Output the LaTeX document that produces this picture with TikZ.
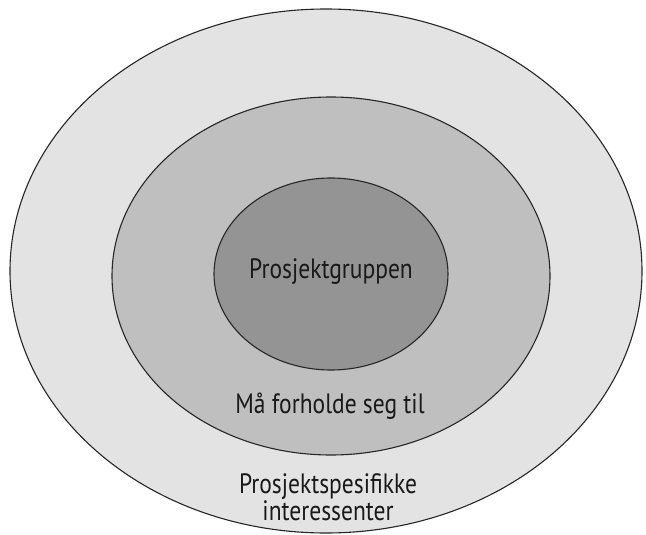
\documentclass[tikz,border=0pt]{standalone}
\usepackage{fontspec}
\setmainfont[FakeStretch=0.84]{PT Sans}
\usepackage{tikz}
\usetikzlibrary{shapes.geometric}

\begin{document}
\begin{tikzpicture}[x=1pt,y=-1pt,
        ring/.style={ellipse,draw=black!85,line width=1.1pt,inner sep=0pt},
        lbl/.style={align=center,font=\fontsize{28}{27}\selectfont,text=black!90}]
        \useasboundingbox (0,0) rectangle (646,535);
        \node[ring,fill=black!11,minimum width=632pt,minimum height=524pt] (outer) at (326,271) {};
        \node[ring,fill=black!25,minimum width=438pt,minimum height=358pt] (middle) at (331,276) {};
        \node[ring,fill=black!42,minimum width=234pt,minimum height=192pt] (inner) at (331,274) {};
        \node[lbl] (gruppe) at (331,272) {Prosjektgruppen};
        \node[lbl] (forhold) at (330,406) {Må forholde seg til};
        \node[lbl] (spesifikk) at (328,497) {Prosjektspesifikke\\interessenter};
\end{tikzpicture}
\end{document}
